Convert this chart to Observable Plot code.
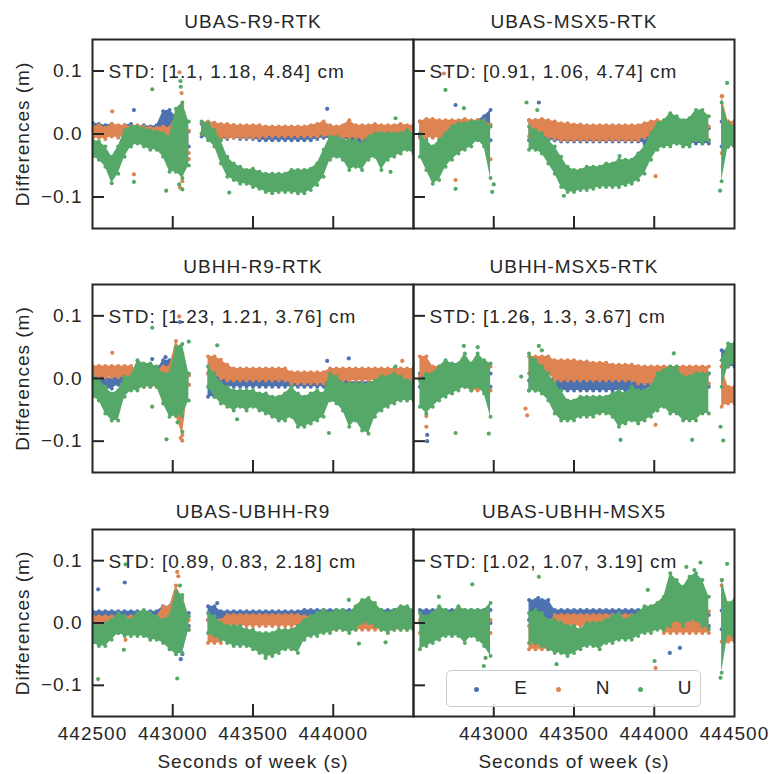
<!DOCTYPE html>
<html><head><meta charset="utf-8">
<script src="https://cdn.jsdelivr.net/npm/d3@7"></script>
<script src="https://cdn.jsdelivr.net/npm/@observablehq/plot@0.6"></script>
<style>
body{margin:0;background:#fff;}
#chart{position:relative;width:771px;height:774px;overflow:hidden;background:#fff;font-family:"Liberation Sans",Arial,sans-serif;color:#262626;}
#chart svg{position:absolute;left:0;top:0;}
#chart svg text{letter-spacing:1px;}
.legend{position:absolute;left:446px;top:670px;width:255px;height:37px;box-sizing:border-box;border:1px solid #cccccc;border-radius:5px;background:rgba(255,255,255,0.8);font-size:19px;letter-spacing:1px;}
.legend .mk{position:absolute;top:16px;width:5px;height:5px;border-radius:50%;}
.legend .lb{position:absolute;top:6px;width:30px;text-align:center;}
</style></head><body><div id="chart"></div><script>
// ---------- shared settings ----------
const components = ["E", "N", "U"];
const colors = ["#4c72b0", "#dd8452", "#55a868"];
const tStart = 442500;   // seconds of week of first sample
const tStep = 40;        // seconds between samples
const xDomain = [442500, 444500];
const yDomain = [-0.15, 0.15];
const yTicks = [-0.1, 0, 0.1];
const xTicks = [443000, 443500, 444000];
const xLabelsLeft = [442500, 443000, 443500, 444000];
const xLabelsRight = [443000, 443500, 444000, 444500];
const panelTitles = ["UBAS-R9-RTK", "UBAS-MSX5-RTK", "UBHH-R9-RTK", "UBHH-MSX5-RTK", "UBAS-UBHH-R9", "UBAS-UBHH-MSX5"];
const stdValues = [[1.1, 1.18, 4.84], [0.91, 1.06, 4.74], [1.23, 1.21, 3.76], [1.26, 1.3, 3.67], [0.89, 0.83, 2.18], [1.02, 1.07, 3.19]];

// ---------- band envelopes (mm), one sample every tStep seconds ----------
// UBAS-R9-RTK
const ubasR9_E_hi = [18,16,14,16,12,14,16,12,14,12,14, 36,38, 28,20,4, null, 16,14,14,12, 12,14,12,10,12, 8,6,4,4,4, 4,4,4,4,6, 10,12,10,10,8, 6,4,4,4,2, 2,4,6,8,8];
const ubasR9_E_lo = [0,2,0,-2,0,-2,0,-2,0,-2,-4, 0,-6, -30,-50,-20, null, -4,-6,-8,-8, -8,-6,-8,-8,-8, -10,-10,-10,-10,-10, -10,-10,-10,-10,-8, -6,-8,-8,-8,-10, -12,-16,-18,-18,-20, -16,-14,-10,-8,-8];
const ubasR9_N_hi = [12,14,10,16,14,14,12,14,12,10,10, 12,10, 30,45,5, null, 18,20,18,16, 16,14,14,14,14, 14,12,12,12,12, 12,12,12,14,16, 20,14,12,14,22, 14,14,14,16,14, 14,14,16,14,14];
const ubasR9_N_lo = [-8,-6,-8,-4,-6,-4,-8,-6,-6,-8,-10, -6,-14, -40,-75,-30, null, 0,-2,-4,-6, -6,-6,-6,-6,-6, -6,-4,-4,-4,-4, -4,-4,-4,-4,-4, -2,-6,-6,-6,-6, -6,-8,-8,-8,-10, -8,-8,-8,-6,-6];
const ubasR9_U_hi = [-10,-12,-20,-36,-20,6,12,12,9,6,4,1,-4,40,50,20, null, 20,17,6,-10, -36,-47,-52,-57,-55, -60,-63,-63,-63,-63, -57,-57,-57,-55,-47, -25,-4,-4,-10,-10, -10,-15,-4,1,1, 1,1,1,6,1];
const ubasR9_U_lo = [-36,-41,-52,-78,-63,-36,-20,-15,-20,-25,-25,-36,-60,-60,-70,-50, null, 1,-10,-20,-47, -68,-73,-79,-79,-84, -87,-92,-94,-92,-92, -92,-94,-94,-89,-81, -68,-41,-36,-41,-57, -52,-57,-41,-36,-57, -41,-36,-31,-25,-31];
const ubasR9_out = [[442872,71,"U"],[442623,36,"N"],[442758,38,"E"],[443962,40,"E"],[443352,-93,"U"],[442959,-90,"U"],[442758,-76,"U"],[442758,-64,"N"],[443048,84,"U"],[443042,98,"N"],[444388,25,"U"],[444357,-60,"U"],[443050,75,"U"],[443055,65,"N"],[443045,-85,"N"],[443060,-88,"U"],[443040,-80,"U"],[443030,-50,"E"],[443100,-40,"N"]];

// UBAS-MSX5-RTK
const ubasMsx5_E_hi = [null, 20,20,18,20,20,18,20,20,20,22,28,38, null,null,null,null,null, 22,22,22,20,18, 10,6,6,6,6, 6,6,6,6,6, 6,6,8,9,9, 9,9,9,9,9, 9,9,9,9, null, 20,20,20];
const ubasMsx5_E_lo = [null, -4,-4,-4,-4,-4,-4,-4,-4,-4,-4,-4,-10, null,null,null,null,null, -10,-10,-10,-10,-10, -12,-12,-12,-12,-12, -12,-12,-12,-12,-12, -12,-12,-12,-15,-15, -15,-15,-15,-15,-15, -15,-15,-15,-15, null, -20,-20,-20];
const ubasMsx5_N_hi = [null, 20,24,24,22,22,22,22,24,22,22,22,15, null,null,null,null,null, 22,22,24,22,20, 17,17,15,15,14, 14,14,14,14,14, 14,14,14,17,20, 22,20,12,12,12, 12,12,12,12, null, 60,20,20];
const ubasMsx5_N_lo = [null, -6,-6,-6,-6,-6,-8,-8,-8,-8,-8,-8,-40, null,null,null,null,null, -4,-4,-4,-6,-8, -10,-10,-10,-10,-10, -10,-10,-10,-10,-10, -10,-10,-10,-6,-4, -4,-4,-10,-10,-10, -10,-10,-10,-10, null, -30,-20,-20];
const ubasMsx5_U_hi = [null, 1,-10,-20,-10,1,12,17,17,20,20,22,12, null,null,null,null,null, 12,6,1,-10,-20, -36,-52,-57,-57,-52, -52,-52,-47,-47,-41, -41,-41,-31,-20,1, 17,22,33,28,22, 25,38,38,28, null, 50,17,12];
const ubasMsx5_U_lo = [null, -36,-57,-79,-73,-52,-41,-31,-25,-20,-10,-20,-70, null,null,null,null,null, -25,-25,-31,-47,-63, -84,-92,-92,-89,-89, -87,-84,-84,-84,-84, -81,-79,-73,-63,-41, -25,-20,-20,-15,-20, -20,-10,-15,-10, null, -75,-20,-20];
const ubasMsx5_out = [[442699,70,"U"],[442689,96,"N"],[442762,46,"E"],[442814,41,"U"],[442762,-73,"N"],[442762,-87,"U"],[443281,50,"E"],[443204,50,"U"],[443271,38,"U"],[443329,-35,"N"],[443784,-35,"U"],[444008,-67,"N"],[444454,81,"U"],[444423,60,"N"],[443437,-98,"U"],[444410,-90,"U"],[442990,-92,"U"],[443000,-80,"U"]];

// UBHH-R9-RTK
const ubhhR9_E_hi = [10,6,2,0,4,8,8, 10,10,12,14, 29,29, 30,20,5, null,null, 8,8,2,0,0, 0,0,0,0,0, 0,0,0,0,0, 0,0,0,0, 8,4,0,-5,-5, -5,-5,-5,-5,-5, -5,-5,-5,-5];
const ubhhR9_E_lo = [-10,-14,-18,-16,-10,-8,-8, -10,-10,-8,-6, -3,-3, -40,-30,-10, null,null, -29,-29,-15,-13,-13, -13,-13,-13,-13,-13, -13,-13,-13,-13,-13, -13,-13,-13,-13, -20,-20,-25,-29,-29, -29,-29,-29,-29,-29, -29,-29,-25,-25];
const ubhhR9_N_hi = [20,20,20,20,20,20,20, 13,13,13,13, 19,19, 60,40,5, null,null, 35,35,30,22,16, 16,16,16,16,16, 16,16,16,10,10, 10,10,10,10, 16,16,16,16,16, 16,16,16,16,16, 16,16,16,16];
const ubhhR9_N_lo = [2,2,2,2,2,2,2, -13,-13,-13,-13, -8,-8, -60,-90,-10, null,null, 8,5,0,-3,-3, -3,-3,-3,-3,-3, -3,-3,-3,-8,-8, -8,-8,-8,-8, -3,-3,-3,-3,-3, -3,-3,-3,-3,-3, -3,-3,-3,-3];
const ubhhR9_U_hi = [8,-3,-13,-24,-19,3,3,29,24,24,19,8,8,50,55,8, null,null, 19,8,-8,-13,-19,-19,-19,-19,-24,-24,-29,-29,-24,-13,-24,-29,-24,-19,-24,8,3,-8,-8,-8,-8,-8,-3,3,3,8,3,-3,-3];
const ubhhR9_U_lo = [-29,-35,-56,-67,-67,-29,-19,-19,-13,-13,-13,-40,-61,-60,-60,-35, null,null, -13,-29,-40,-45,-51,-45,-51,-45,-51,-56,-61,-67,-67,-61,-77,-77,-72,-67,-61,-35,-40,-51,-77,-67,-83,-88,-61,-51,-45,-40,-35,-35,-35];
const ubhhR9_out = [[442872,81,"U"],[442623,41,"N"],[442872,31,"E"],[442955,34,"E"],[442961,-97,"U"],[442872,-45,"U"],[443277,53,"U"],[443100,59,"U"],[443059,-99,"N"],[443050,-95,"N"],[443040,99,"N"],[443045,90,"E"],[443401,-65,"U"],[443962,28,"E"],[444097,32,"E"],[443973,-87,"U"],[444430,28,"N"],[444388,19,"U"],[443060,-85,"U"],[443030,-70,"U"]];

// UBHH-MSX5-RTK
const ubhhMsx5_E_hi = [null, 8,8,8,8,8,8,8,8,8,8,8,8, null,null,null,null,null, -3,-3,-3,0,0, 0,0,0,0,0, 0,0,0,0,0, 0,0,0,0,8, 8,8,8,8,8, 8,8,8,8, null, 45,45,45];
const ubhhMsx5_E_lo = [null, -13,-13,-13,-13,-13,-13,-13,-13,-13,-13,-13,-13, null,null,null,null,null, -19,-19,-19,-19,-19, -19,-19,-19,-19,-19, -19,-19,-19,-19,-19, -19,-19,-19,-19,-13, -13,-13,-13,-13,-13, -13,-13,-13,-13, null, 19,19,19];
const ubhhMsx5_N_hi = [null, 35,35,19,19,19,19,19,19,19,19,19,19, null,null,null,null,null, 35,35,35,35,29, 29,29,29,27,27, 25,25,25,22,22, 22,22,20,19,19, 19,19,19,19,19, 19,19,19,19, null, 19,-13,-13];
const ubhhMsx5_N_lo = [null, 3,3,-13,-13,-13,-13,-13,-13,-19,-19,-19,-19, null,null,null,null,null, 8,8,8,8,-3, -3,-3,-3,-3,-3, -3,-3,-3,-3,-3, -3,-3,-8,-8,-8, -8,-8,-8,-8,-8, -8,-8,-8,-8, null, -45,-40,-40];
const ubhhMsx5_U_hi = [null, -3,8,8,19,29,24,24,40,24,40,29,24, null,null,null,null,null, 40,29,19,8,-8, -19,-35,-35,-29,-29, -29,-29,-29,-24,-19, -24,-13,-19,-19,-13, 8,13,19,19,3, 3,8,8,8, null, 29,56,56];
const ubhhMsx5_U_lo = [null, -45,-56,-45,-35,-29,-24,-19,-13,-19,-13,-24,-61, null,null,null,null,null, -19,-19,-24,-35,-56, -67,-67,-67,-61,-61, -61,-56,-56,-61,-77, -72,-67,-72,-67,-61, -51,-45,-56,-56,-67, -67,-67,-56,-56, null, -13,19,24];
const ubhhMsx5_out = [[443281,52,"U"],[443171,3,"U"],[443208,-59,"N"],[443198,-48,"N"],[442762,-87,"U"],[442969,-88,"U"],[443790,-98,"U"],[444236,-98,"U"],[444122,40,"U"],[444413,-77,"U"],[444430,-99,"U"],[444008,-74,"N"],[442585,-100,"E"],[442585,-90,"E"],[442580,-77,"N"],[442580,-60,"N"],[443204,96,"E"],[442814,52,"U"],[442900,50,"U"],[443300,45,"U"]];

// UBAS-UBHH-R9
const ubasUbhhR9_E_hi = [19,19,19,19,19,19,19,19,19,19,19, 27,27, 30,10,16, null,null, 27,27, 19,19,19,19,19,19,19,19,19,19,19,19,19, 21,21,21,21,21,21,21,21,21,21,21,21,21,21,21,21,21,21];
const ubasUbhhR9_E_lo = [0,0,0,0,0,0,0,0,0,0,0, 5,5, -30,-50,-5, null,null, 5,5, 5,5,5,5,5,5,5,5,5,5,5,5,5, 0,0,0,0,0,0,0,0,0,0,0,0,0,0,0,0,0,0];
const ubasUbhhR9_N_hi = [11,11,11,11,11,11,11,11,11,11,11, 26,26, 60,40,5, null,null, 5,5,5, 13,13,13,13,13,13,13,13,13,13,13,13, 11,11,11,11,11,11,11,11,11,11,11,11,11,11,11,11,11,11];
const ubasUbhhR9_N_lo = [-16,-16,-16,-16,-16,-16,-16,-16,-16,-16,-16, -5,-5, -20,-30,-11, null,null, -32,-32,-32, -5,-5,-5,-5,-5,-5,-5,-5,-5,-5,-5,-5, -11,-11,-11,-11,-11,-11,-11,-11,-11,-11,-11,-11,-11,-11,-11,-11,-11,-11];
const ubasUbhhR9_U_hi = [0,-5,0,5,16,11,5,16,21,16,11,5,11,50,45,11, null,null, 16,11,0,-5,-5,-5,-11,-11,-16,-16,-16,-11,-11,-11,-5,5,11,16,21,16,21,21,16,27,37,40,32,21,16,21,27,27,21];
const ubasUbhhR9_U_lo = [-32,-37,-37,-27,-16,-21,-21,-21,-21,-27,-27,-32,-42,-50,-48,-11, null,null, -16,-21,-27,-32,-37,-37,-37,-42,-48,-53,-53,-48,-42,-42,-48,-27,-21,-21,-16,-16,-11,-11,-16,-11,0,0,-5,-11,-16,-11,-11,-11,-11];
const ubasUbhhR9_out = [[442535,54,"E"],[442535,-90,"U"],[442706,94,"U"],[442701,65,"E"],[442695,-43,"U"],[442706,-27,"N"],[443028,-89,"U"],[443028,82,"N"],[443035,75,"N"],[443277,32,"E"],[444097,37,"U"],[444160,-33,"U"],[444326,-31,"U"],[443578,-56,"U"],[443050,-58,"E"],[443045,60,"U"]];

// UBAS-UBHH-MSX5
const ubasUbhhMsx5_E_hi = [null, 21,21,21,21,21,21,21,21,21,21,21,21, null,null,null,null,null, 37,37,37,37, 21,21,21,21,21,21,21,21,21,21,21,21,21,21,21,21,21, 13,13,13,13,13,13,13,13, null, 20,20,20];
const ubasUbhhMsx5_E_lo = [null, 0,0,0,0,0,0,0,0,0,0,0,0, null,null,null,null,null, 5,5,5,5, 5,5,5,5,5,5,5,5,5,5,5,5,5,5,5,5,5, -5,-5,-5,-5,-5,-5,-5,-5, null, -10,-10,-10];
const ubasUbhhMsx5_N_hi = [null, 5,5,5,5,5,5,5,5,5,5,5,5, null,null,null,null,null, -5,-5,-5,-5, 13,13,13,13,13,13,13,13,13,13,13,13,13,13,13,13,13, 19,19,19,19,19,19,19,19, null, 60,20,20];
const ubasUbhhMsx5_N_lo = [null, -16,-16,-16,-16,-16,-16,-16,-16,-16,-16,-16,-16, null,null,null,null,null, -42,-42,-42,-42, -5,-5,-5,-5,-5,-5,-5,-5,-5,-5,-5,-5,-5,-5,-5,-5,-5, -16,-16,-16,-16,-16,-16,-16,-16, null, -30,-30,-30];
const ubasUbhhMsx5_U_hi = [null, 16,11,16,27,21,16,27,21,21,21,21,32, null,null,null,null,null, 16,21,16,5,5,0,-5,-5,-11,0,0,0,5,11,16,5,11,16,27,27,32,42,80,69,58,74,80,69,42, null, 69,32,37];
const ubasUbhhMsx5_U_lo = [null, -42,-37,-32,-27,-21,-21,-21,-32,-21,-27,-37,-53, null,null,null,null,null, -32,-32,-37,-42,-48,-48,-53,-48,-42,-37,-37,-42,-32,-32,-27,-27,-27,-21,-16,-16,-11,-11,-5,5,-5,5,5,-5,-10, null, -80,-16,-27];
const ubasUbhhMsx5_out = [[442866,62,"U"],[443281,74,"U"],[443277,40,"E"],[443960,53,"U"],[444008,-72,"N"],[444002,-61,"U"],[444413,-88,"U"],[444454,95,"U"],[444423,69,"N"],[444288,97,"U"],[443391,-66,"U"],[442938,-69,"U"],[442949,-56,"U"],[442658,42,"U"],[444097,-48,"E"],[444160,-40,"E"],[444200,90,"U"],[444250,85,"U"]];

// ---------- layout ----------
const W = 771, H = 774;
const ink = "#262626";
const font = '"Liberation Sans", Arial, sans-serif';
const colLeft = [92, 413], colRight = [413, 734];
const rowBox = [[39, 228], [284, 472], [529, 716]];

const panels = [
  {bands: [[ubasR9_E_lo, ubasR9_E_hi], [ubasR9_N_lo, ubasR9_N_hi], [ubasR9_U_lo, ubasR9_U_hi]], out: ubasR9_out},
  {bands: [[ubasMsx5_E_lo, ubasMsx5_E_hi], [ubasMsx5_N_lo, ubasMsx5_N_hi], [ubasMsx5_U_lo, ubasMsx5_U_hi]], out: ubasMsx5_out},
  {bands: [[ubhhR9_E_lo, ubhhR9_E_hi], [ubhhR9_N_lo, ubhhR9_N_hi], [ubhhR9_U_lo, ubhhR9_U_hi]], out: ubhhR9_out},
  {bands: [[ubhhMsx5_E_lo, ubhhMsx5_E_hi], [ubhhMsx5_N_lo, ubhhMsx5_N_hi], [ubhhMsx5_U_lo, ubhhMsx5_U_hi]], out: ubhhMsx5_out},
  {bands: [[ubasUbhhR9_E_lo, ubasUbhhR9_E_hi], [ubasUbhhR9_N_lo, ubasUbhhR9_N_hi], [ubasUbhhR9_U_lo, ubasUbhhR9_U_hi]], out: ubasUbhhR9_out},
  {bands: [[ubasUbhhMsx5_E_lo, ubasUbhhMsx5_E_hi], [ubasUbhhMsx5_N_lo, ubasUbhhMsx5_N_hi], [ubasUbhhMsx5_U_lo, ubasUbhhMsx5_U_hi]], out: ubasUbhhMsx5_out}
];

const mm = v => (v == null ? NaN : v / 1000);
const noLabel = () => "";
const chart = document.getElementById("chart");

panels.forEach((p, idx) => {
  const col = idx % 2, row = Math.floor(idx / 2);
  const [x0, x1] = col === 0 ? colLeft : colRight;
  const [y0, y1] = rowBox[row];
  const marks = [];
  components.forEach((c, k) => {
    const [lo, hi] = p.bands[k];
    const rows = lo.map((l, i) => ({t: tStart + i * tStep, lo: mm(l), hi: mm(hi[i])}));
    const outs = p.out.filter(o => o[2] === c).map(o => ({t: o[0], v: o[1] / 1000}));
    marks.push(Plot.areaY(rows, {x: "t", y1: "lo", y2: "hi", fill: colors[k], clip: true}));
    marks.push(Plot.dot(rows, {x: "t", y: "lo", r: 2, fill: colors[k], clip: true}));
    marks.push(Plot.dot(rows, {x: "t", y: "hi", r: 2, fill: colors[k], clip: true}));
    marks.push(Plot.dot(outs, {x: "t", y: "v", r: 2.1, fill: colors[k], clip: true}));
  });
  // frame and inward ticks
  marks.push(Plot.frame({stroke: ink, strokeWidth: 2}));
  marks.push(Plot.axisY(yTicks, {anchor: "left", tickSize: 12, dx: 12, tickFormat: noLabel, stroke: ink, strokeWidth: 2, label: null}));
  marks.push(Plot.axisX(xTicks, {anchor: "bottom", tickSize: 12, dy: -12, tickFormat: noLabel, stroke: ink, strokeWidth: 2, label: null}));
  // title and STD annotation
  marks.push(Plot.text([panelTitles[idx]], {text: d => d, frameAnchor: "top", dy: -18, lineAnchor: "middle", fontSize: 19, fill: ink}));
  marks.push(Plot.text([`STD: [${stdValues[idx].join(", ")}] cm`], {text: d => d, frameAnchor: "top-left", textAnchor: "start", dx: 16, dy: 32, lineAnchor: "middle", fontSize: 19, fill: ink}));
  if (col === 0) {
    marks.push(Plot.axisY(yTicks, {anchor: "left", tickSize: 0, tickPadding: 10, tickFormat: d3.format(".1f"), fontSize: 19, fill: ink, label: null}));
    marks.push(Plot.text(["Differences (m)"], {text: d => d, frameAnchor: "left", rotate: -90, dx: -70, lineAnchor: "middle", textAnchor: "middle", fontSize: 19, fill: ink}));
  }
  if (row === 2) {
    marks.push(Plot.axisX(col === 0 ? xLabelsLeft : xLabelsRight, {anchor: "bottom", tickSize: 0, tickPadding: 10, tickFormat: "d", fontSize: 19, fill: ink, label: null}));
    marks.push(Plot.text(["Seconds of week (s)"], {text: d => d, frameAnchor: "bottom", dy: 45, lineAnchor: "middle", fontSize: 19, fill: ink}));
  }
  const svg = Plot.plot({
    width: W, height: H,
    marginLeft: x0, marginRight: W - x1, marginTop: y0, marginBottom: H - y1,
    x: {domain: xDomain, axis: null},
    y: {domain: yDomain, axis: null},
    style: {background: "transparent", fontFamily: font, fontSize: "19px", color: ink, overflow: "visible"},
    marks
  });
  chart.appendChild(svg);
});

// legend
const legend = document.createElement("div");
legend.className = "legend";
components.forEach((c, k) => {
  const mk = document.createElement("span");
  mk.className = "mk";
  mk.style.background = colors[k];
  mk.style.left = (27 + 82 * k) + "px";
  const lb = document.createElement("span");
  lb.className = "lb";
  lb.textContent = c;
  lb.style.left = (59 + 82 * k) + "px";
  legend.appendChild(mk);
  legend.appendChild(lb);
});
chart.appendChild(legend);
</script></body></html>
